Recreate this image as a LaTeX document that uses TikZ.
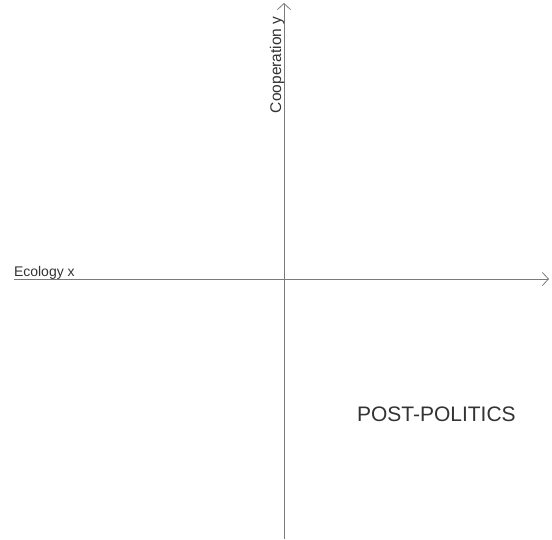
\documentclass[tikz,border=0pt]{standalone}
\usepackage{fontspec}
\setmainfont{Liberation Sans}
\usetikzlibrary{arrows.meta}
\definecolor{axisgray}{HTML}{7A7A7A}
\definecolor{textgray}{HTML}{333333}
\begin{document}
\begin{tikzpicture}[x=1pt,y=-1pt,
  axisline/.style={draw=axisgray,line width=1pt,-{Straight Barb[length=6pt,width=13pt,line width=0.8pt]}},
  lbl/.style={text=textgray,inner sep=0pt,outer sep=0pt}]
\useasboundingbox (0,0) rectangle (552,539);
% axes
\coordinate (xs) at (14,279);
\coordinate (xe) at (549,279);
\coordinate (ys) at (284,539);
\coordinate (ye) at (284,3);
\draw[axisline] (xs) -- (xe);
\draw[axisline] (ys) -- (ye);
% labels
\node[lbl,anchor=base west,font=\fontsize{14}{16}\selectfont] (xl) at (14,276) {Ecology x};
\node[lbl,anchor=base west,rotate=90,font=\fontsize{15.5}{18}\selectfont] (yl) at (281,113) {Cooperation y};
\node[lbl,anchor=base west,font=\fontsize{21}{24}\selectfont] (pp) at (357,421) {POST-POLITICS};
\end{tikzpicture}
\end{document}
